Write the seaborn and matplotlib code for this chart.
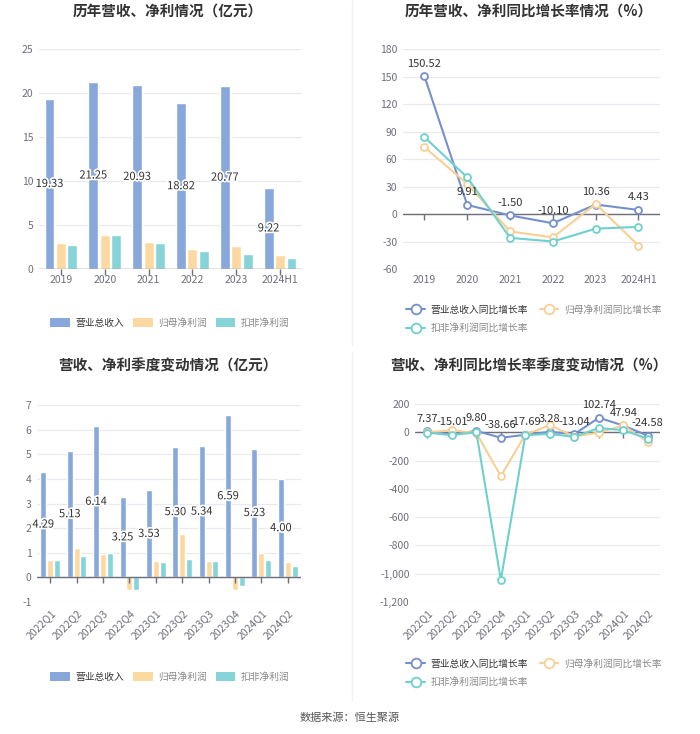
import matplotlib
matplotlib.use("Agg")
import matplotlib.pyplot as plt
import matplotlib.patheffects as pe
from matplotlib.patches import Patch
from matplotlib.lines import Line2D
from matplotlib.ticker import FuncFormatter
import seaborn as sns
import pandas as pd

# Annual data (亿元)
years = ["2019", "2020", "2021", "2022", "2023", "2024H1"]
rev_year = [19.33, 21.25, 20.93, 18.82, 20.77, 9.22]
np_year = [2.90, 3.83, 3.12, 2.33, 2.56, 1.62]
dnp_year = [2.70, 3.83, 2.90, 2.03, 1.69, 1.20]

# Annual growth (%)
rev_yoy = [150.52, 9.91, -1.50, -10.10, 10.36, 4.43]
np_yoy = [73.0, 33.0, -19.0, -25.5, 11.0, -34.5]
dnp_yoy = [84.0, 40.0, -26.0, -30.0, -16.0, -14.0]

# Quarterly data (亿元)
quarters = ["2022Q1", "2022Q2", "2022Q3", "2022Q4", "2023Q1",
            "2023Q2", "2023Q3", "2023Q4", "2024Q1", "2024Q2"]
rev_q = [4.29, 5.13, 6.14, 3.25, 3.53, 5.30, 5.34, 6.59, 5.23, 4.00]
np_q = [0.72, 1.19, 0.97, -0.53, 0.66, 1.77, 0.66, -0.53, 0.99, 0.64]
dnp_q = [0.72, 0.85, 0.99, -0.53, 0.61, 0.76, 0.68, -0.35, 0.70, 0.47]

# Quarterly growth (%)
rev_q_yoy = [7.37, -15.01, 9.80, -38.66, -17.69, 3.28, -13.04, 102.74, 47.94, -24.58]
np_q_yoy = [0.0, 14.0, -5.0, -310.0, -16.0, 50.0, -30.0, -2.0, 48.0, -68.0]
dnp_q_yoy = [-3.0, -20.0, 0.0, -1045.0, -20.0, -12.0, -32.0, 30.0, 15.0, -45.0]

bar_names = ["营业总收入", "归母净利润", "扣非净利润"]
line_names = ["营业总收入同比增长率", "归母净利润同比增长率", "扣非净利润同比增长率"]
bar_colors = ["#88a8db", "#fdd9a2", "#86d4d8"]
line_colors = ["#7591cd", "#f8cf95", "#6fd0d0"]

sns.set_theme(style="white")
plt.rcParams["font.family"] = ["Noto Sans CJK SC", "DejaVu Sans"]
plt.rcParams["axes.unicode_minus"] = False

TXT = "#333333"
TICK = "#6e7079"
GRID = "#e8eaef"
FS = 7.5
LFS = 7

fig = plt.figure(figsize=(7.0, 7.34), dpi=100)
ax1 = fig.add_axes([0.0557, 0.6335, 0.3757, 0.2997])
ax2 = fig.add_axes([0.5757, 0.6335, 0.3670, 0.2997])
ax3 = fig.add_axes([0.0529, 0.1798, 0.3770, 0.2684])
ax4 = fig.add_axes([0.5930, 0.1798, 0.3500, 0.2698])


def style_axis(ax, ticks, ylim, cats, rotate=False):
    ax.set_ylim(*ylim)
    ax.set_yticks(ticks)
    ax.set_xlim(-0.5, len(cats) - 0.5)
    for s in ax.spines.values():
        s.set_visible(False)
    ax.grid(axis="y", color=GRID, linewidth=0.9)
    ax.set_axisbelow(True)
    ax.axhline(0, color="#6e7079", linewidth=1.0, zorder=1.5)
    ax.plot(ax.get_xticks(), [0] * len(cats), ls="none", marker=3,
            markersize=4, color="#6e7079", clip_on=False, zorder=1.5)
    ax.tick_params(axis="both", length=0, colors=TICK, labelsize=FS, pad=4)
    ax.set_xlabel("")
    ax.set_ylabel("")
    if rotate:
        ax.set_xticks(range(len(cats)))
        ax.set_xticklabels(cats, rotation=45, ha="right", rotation_mode="anchor")
    ax.yaxis.set_major_formatter(FuncFormatter(lambda v, p: f"{v:,.0f}"))


def bar_panel(ax, cats, rev, np_, dnp, ticks, ylim, rotate=False):
    df = pd.DataFrame({"cat": cats * 3,
                       "val": rev + np_ + dnp,
                       "kind": [n for n in bar_names for _ in cats]})
    sns.barplot(data=df, x="cat", y="val", hue="kind", palette=bar_colors,
                width=0.78, gap=0.13, legend=False, ax=ax, saturation=1)
    style_axis(ax, ticks, ylim, cats, rotate)
    # labels on the revenue bars, at half height
    for patch, v in zip(ax.patches[:len(cats)], rev):
        ax.text(patch.get_x() + patch.get_width() / 2, v / 2, f"{v:.2f}",
                ha="center", va="center", fontsize=8, color=TXT,
                path_effects=[pe.withStroke(linewidth=2.5, foreground="white")],
                zorder=5)


def line_panel(ax, cats, series, ticks, ylim, rotate=False):
    for vals, c in zip(series, line_colors):
        sns.lineplot(x=cats, y=vals, sort=False, color=c, linewidth=1.5,
                     marker="o", markersize=5, markerfacecolor="white",
                     markeredgecolor=c, markeredgewidth=1.3, ax=ax, zorder=3)
    style_axis(ax, ticks, ylim, cats, rotate)
    for i, v in enumerate(series[0]):
        ax.annotate(f"{v:.2f}", (i, v), xytext=(0, 9), textcoords="offset points",
                    ha="center", va="center", fontsize=8, color=TXT, zorder=6)


bar_panel(ax1, years, rev_year, np_year, dnp_year, range(0, 26, 5), (0, 25))
line_panel(ax2, years, [rev_yoy, np_yoy, dnp_yoy], range(-60, 181, 30), (-60, 180))
bar_panel(ax3, quarters, rev_q, np_q, dnp_q, range(-1, 8), (-1, 7), rotate=True)
line_panel(ax4, quarters, [rev_q_yoy, np_q_yoy, dnp_q_yoy], range(-1200, 201, 200),
           (-1200, 200), rotate=True)

# titles
title_kw = dict(ha="center", va="center", fontsize=10.5, fontweight="bold", color=TXT)
fig.text(0.24, 1 - 12 / 734, "历年营收、净利情况（亿元）", **title_kw)
fig.text(0.755, 1 - 12 / 734, "历年营收、净利同比增长率情况（%）", **title_kw)
fig.text(0.24, 1 - 366 / 734, "营收、净利季度变动情况（亿元）", **title_kw)
fig.text(0.755, 1 - 366 / 734, "营收、净利同比增长率季度变动情况（%）", **title_kw)

# legends
bar_handles = [Patch(facecolor=c, edgecolor="none") for c in bar_colors]
line_handles = [Line2D([0], [0], color=c, linewidth=1.5, marker="o", markersize=7,
                       markerfacecolor="white", markeredgecolor=c, markeredgewidth=1.3)
                for c in line_colors]
for y in (1 - 323 / 734, 1 - 677 / 734):
    lg = fig.legend(bar_handles, bar_names, loc="center", bbox_to_anchor=(0.243, y),
                    ncol=3, frameon=False, fontsize=LFS, handlelength=2.0,
                    handleheight=1.1, columnspacing=0.9, handletextpad=0.6)
    for t, c in zip(lg.get_texts(), ["#333333", "#888888", "#888888"]):
        t.set_color(c)
for y in (1 - 296 / 734, 1 - 650 / 734):
    order = [0, 2, 1]
    lg = fig.legend([line_handles[i] for i in order], [line_names[i] for i in order],
                    loc="upper left", bbox_to_anchor=(0.568, y), ncol=2,
                    frameon=False, fontsize=LFS, handlelength=1.9,
                    columnspacing=1.2, handletextpad=0.6, labelspacing=0.85)
    for t, c in zip(lg.get_texts(), ["#333333", "#888888", "#888888"]):
        t.set_color(c)

# faint panel dividers
fig.add_artist(Line2D([352 / 700, 352 / 700], [1 - 345 / 734, 1.0], color="#f0f0f0",
                      linewidth=1.0))
fig.add_artist(Line2D([352 / 700, 352 / 700], [1 - 700 / 734, 1 - 352 / 734],
                      color="#f0f0f0", linewidth=1.0))

fig.text(0.5, 1 - 718 / 734, "数据来源：恒生聚源", ha="center", va="center",
         fontsize=8, color="#555555")

fig.savefig("out.png", dpi=100, facecolor="white")
